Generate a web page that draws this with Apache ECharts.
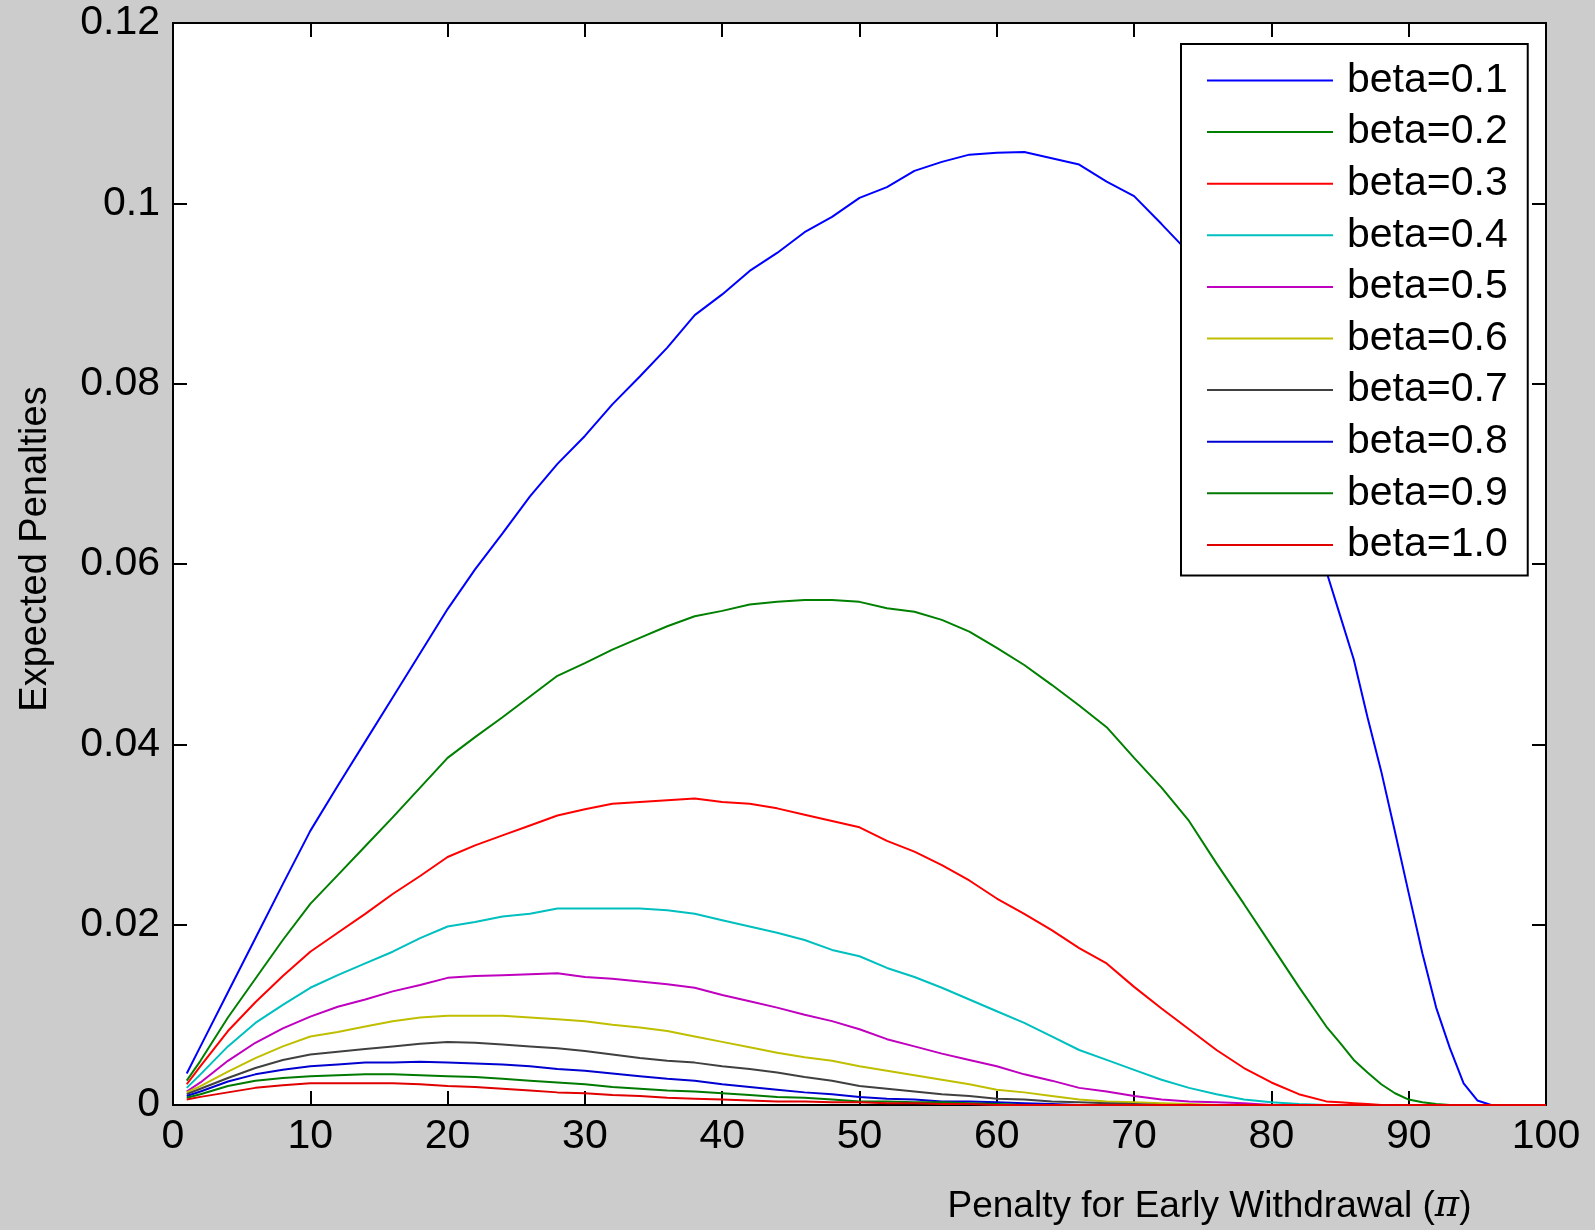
<!DOCTYPE html>
<html>
<head>
<meta charset="utf-8">
<script src="https://cdn.jsdelivr.net/npm/echarts@6/dist/echarts.min.js"></script>
<style>
  html, body { margin: 0; padding: 0; background: #cccccc; }
  #chart { width: 1595px; height: 1230px; }
</style>
</head>
<body>
<div id="chart"></div>
<script>
// Penalty for early withdrawal (pi) sample points
const penalty = [1, 2, 4, 6, 8, 10, 12, 14, 16, 18, 20, 22, 24, 26, 28, 30, 32, 34, 36, 38, 40,
  42, 44, 46, 48, 50, 52, 54, 56, 58, 60, 62, 64, 66, 68, 70, 72, 74, 76, 78, 80, 82, 84,
  85, 86, 87, 88, 89, 90, 91, 92, 93, 94, 95, 96, 97, 98, 99, 100];

// Expected penalties for each beta
const beta01 = [0.0035, 0.0065, 0.0125, 0.0185, 0.0245, 0.0304, 0.0354, 0.0403, 0.0452, 0.0501, 0.0550,
  0.0594, 0.0634, 0.0675, 0.0711, 0.0742, 0.0777, 0.0808, 0.0840, 0.0876, 0.0899,
  0.0925, 0.0945, 0.0968, 0.0985, 0.1006, 0.1018, 0.1036, 0.1046, 0.1054, 0.1056,
  0.1057, 0.1050, 0.1043, 0.1024, 0.1008, 0.0977, 0.0945, 0.0903, 0.0843, 0.0773, 0.0690, 0.0592,
  0.0543, 0.0494, 0.0430, 0.0370, 0.0303, 0.0235, 0.0168, 0.0108, 0.0063, 0.0024, 0.0005, 0, 0, 0, 0, 0];
const beta02 = [0.0027, 0.0049, 0.0097, 0.0140, 0.0183, 0.0223, 0.0255, 0.0287, 0.0319, 0.0352, 0.0385,
  0.0408, 0.0430, 0.0453, 0.0476, 0.0490, 0.0505, 0.0518, 0.0531, 0.0542, 0.0548,
  0.0555, 0.0558, 0.0560, 0.0560, 0.0558, 0.0551, 0.0547, 0.0538, 0.0525, 0.0507,
  0.0488, 0.0466, 0.0443, 0.0419, 0.0385, 0.0352, 0.0315, 0.0268, 0.0223, 0.0177, 0.0131, 0.0087,
  0.0069, 0.0050, 0.0036, 0.0023, 0.0013, 0.0006, 0.0003, 0.0001, 0, 0, 0, 0, 0, 0, 0, 0];
const beta03 = [0.0023, 0.0043, 0.0082, 0.0114, 0.0143, 0.0170, 0.0191, 0.0212, 0.0234, 0.0254, 0.0275,
  0.0288, 0.0299, 0.0310, 0.0321, 0.0328, 0.0334, 0.0336, 0.0338, 0.0340, 0.0336,
  0.0334, 0.0329, 0.0322, 0.0315, 0.0308, 0.0293, 0.0281, 0.0266, 0.0249, 0.0229,
  0.0212, 0.0194, 0.0174, 0.0157, 0.0131, 0.0107, 0.0084, 0.0061, 0.0041, 0.0025, 0.0012, 0.0004,
  0.0003, 0.0002, 0.0001, 0, 0, 0, 0, 0, 0, 0, 0, 0, 0, 0, 0, 0];
const beta04 = [0.0019, 0.0034, 0.0065, 0.0091, 0.0111, 0.0130, 0.0144, 0.0157, 0.0170, 0.0185, 0.0198,
  0.0203, 0.0209, 0.0212, 0.0218, 0.0218, 0.0218, 0.0218, 0.0216, 0.0212, 0.0205,
  0.0198, 0.0191, 0.0183, 0.0172, 0.0165, 0.0152, 0.0142, 0.0130, 0.0117, 0.0104,
  0.0091, 0.0076, 0.0061, 0.0050, 0.0039, 0.0028, 0.0019, 0.0012, 0.0006, 0.0003, 0.0001, 0,
  0, 0, 0, 0, 0, 0, 0, 0, 0, 0, 0, 0, 0, 0, 0, 0];
const beta05 = [0.0015, 0.0025, 0.0049, 0.0069, 0.0085, 0.0098, 0.0109, 0.0117, 0.0126, 0.0133, 0.0141,
  0.0143, 0.0144, 0.0145, 0.0146, 0.0142, 0.0140, 0.0137, 0.0134, 0.0130, 0.0122,
  0.0115, 0.0108, 0.0100, 0.0093, 0.0084, 0.0073, 0.0065, 0.0057, 0.0050, 0.0043,
  0.0034, 0.0027, 0.0019, 0.0015, 0.0010, 0.0006, 0.0004, 0.0003, 0.0002, 0, 0, 0,
  0, 0, 0, 0, 0, 0, 0, 0, 0, 0, 0, 0, 0, 0, 0, 0];
const beta06 = [0.0014, 0.0021, 0.0037, 0.0052, 0.0065, 0.0076, 0.0081, 0.0087, 0.0093, 0.0097, 0.0099,
  0.0099, 0.0099, 0.0097, 0.0095, 0.0093, 0.0089, 0.0086, 0.0082, 0.0076, 0.0070,
  0.0064, 0.0058, 0.0053, 0.0049, 0.0043, 0.0038, 0.0033, 0.0028, 0.0023, 0.0017,
  0.0014, 0.0010, 0.0006, 0.0004, 0.0003, 0.0002, 0.0001, 0, 0, 0, 0, 0,
  0, 0, 0, 0, 0, 0, 0, 0, 0, 0, 0, 0, 0, 0, 0, 0];
const beta07 = [0.0012, 0.0018, 0.0030, 0.0041, 0.0050, 0.0056, 0.0059, 0.0062, 0.0065, 0.0068, 0.0070,
  0.0069, 0.0067, 0.0065, 0.0063, 0.0060, 0.0056, 0.0052, 0.0049, 0.0047, 0.0043,
  0.0040, 0.0036, 0.0031, 0.0027, 0.0021, 0.0018, 0.0015, 0.0012, 0.0010, 0.0007,
  0.0006, 0.0004, 0.0003, 0.0002, 0.0001, 0, 0, 0, 0, 0, 0, 0,
  0, 0, 0, 0, 0, 0, 0, 0, 0, 0, 0, 0, 0, 0, 0, 0];
const beta08 = [0.0010, 0.0015, 0.0026, 0.0034, 0.0039, 0.0043, 0.0045, 0.0047, 0.0047, 0.0048, 0.0047,
  0.0046, 0.0045, 0.0043, 0.0040, 0.0038, 0.0035, 0.0032, 0.0029, 0.0027, 0.0023,
  0.0020, 0.0017, 0.0014, 0.0012, 0.0009, 0.0007, 0.0006, 0.0004, 0.0004, 0.0003,
  0.0002, 0.0001, 0, 0, 0, 0, 0, 0, 0, 0, 0, 0,
  0, 0, 0, 0, 0, 0, 0, 0, 0, 0, 0, 0, 0, 0, 0, 0];
const beta09 = [0.0008, 0.0012, 0.0021, 0.0027, 0.0030, 0.0032, 0.0033, 0.0034, 0.0034, 0.0033, 0.0032,
  0.0031, 0.0029, 0.0027, 0.0025, 0.0023, 0.0020, 0.0018, 0.0016, 0.0015, 0.0013,
  0.0011, 0.0009, 0.0008, 0.0006, 0.0004, 0.0004, 0.0003, 0.0003, 0.0002, 0.0001,
  0, 0, 0, 0, 0, 0, 0, 0, 0, 0, 0, 0,
  0, 0, 0, 0, 0, 0, 0, 0, 0, 0, 0, 0, 0, 0, 0, 0];
const beta10 = [0.0006, 0.0009, 0.0014, 0.0019, 0.0022, 0.0024, 0.0024, 0.0024, 0.0024, 0.0023, 0.0021,
  0.0020, 0.0018, 0.0016, 0.0014, 0.0013, 0.0011, 0.0010, 0.0008, 0.0007, 0.0006,
  0.0005, 0.0004, 0.0004, 0.0003, 0.0003, 0.0002, 0.0002, 0.0001, 0.0001, 0,
  0, 0, 0, 0, 0, 0, 0, 0, 0, 0, 0, 0,
  0, 0, 0, 0, 0, 0, 0, 0, 0, 0, 0, 0, 0, 0, 0, 0];

const seriesNames = ['beta=0.1', 'beta=0.2', 'beta=0.3', 'beta=0.4', 'beta=0.5',
  'beta=0.6', 'beta=0.7', 'beta=0.8', 'beta=0.9', 'beta=1.0'];
const seriesValues = [beta01, beta02, beta03, beta04, beta05, beta06, beta07, beta08, beta09, beta10];
const lineColors = ['#0000ff', '#008000', '#ff0000', '#00bfbf', '#bf00bf',
  '#bfbf00', '#404040', '#0000d0', '#007a00', '#e00000'];

const FONT = '"Liberation Sans", Arial, Helvetica, sans-serif';
const BLACK = '#000000';

const chart = echarts.init(document.getElementById('chart'), null, { renderer: 'canvas' });

const boxLine = { show: true, onZero: false, lineStyle: { color: BLACK, width: 2 } };
const boxTick = { show: true, inside: true, length: 14, lineStyle: { color: BLACK, width: 2 } };

const option = {
  backgroundColor: '#cccccc',
  animation: false,
  grid: {
    left: 173, top: 23, width: 1373, height: 1086,
    show: true, backgroundColor: '#ffffff', borderColor: BLACK, borderWidth: 2
  },
  legend: {
    orient: 'vertical',
    left: 1181, top: 44,
    padding: [16, 20, 10, 26],
    icon: 'rect',
    itemWidth: 126, itemHeight: 2, itemGap: 10.6,
    backgroundColor: '#ffffff', borderColor: BLACK, borderWidth: 2,
    textStyle: { fontSize: 41, fontFamily: FONT, color: BLACK, lineHeight: 41, padding: [0, 0, 0, 9] },
    data: seriesNames
  },
  xAxis: [
    {
      type: 'value', min: 0, max: 100, interval: 10, position: 'bottom',
      axisLine: boxLine, axisTick: boxTick, splitLine: { show: false },
      axisLabel: { color: BLACK, fontSize: 41, fontFamily: FONT, margin: 11 },
      name: 'Penalty for Early Withdrawal ({pi|π})',
      nameLocation: 'middle', nameGap: 83,
      nameTextStyle: {
        color: BLACK, fontSize: 37, fontFamily: FONT, padding: [0, 0, 0, 700],
        rich: { pi: { fontSize: 37, fontFamily: '"DejaVu Serif", serif', fontStyle: 'italic', color: BLACK } }
      }
    },
    {
      type: 'value', min: 0, max: 100, interval: 10, position: 'top',
      axisLine: boxLine, axisTick: boxTick, splitLine: { show: false },
      axisLabel: { show: false }
    }
  ],
  yAxis: [
    {
      type: 'value', min: 0, max: 0.12, interval: 0.02, position: 'left',
      axisLine: boxLine, axisTick: boxTick, splitLine: { show: false },
      axisLabel: {
        color: BLACK, fontSize: 41, fontFamily: FONT, margin: 13,
        formatter: v => (v === 0 ? '0' : String(+v.toFixed(2)))
      },
      name: 'Expected Penalties',
      nameLocation: 'middle', nameGap: 118,
      nameTextStyle: { color: BLACK, fontSize: 38, fontFamily: FONT, padding: [0, 0, 0, 30] }
    },
    {
      type: 'value', min: 0, max: 0.12, interval: 0.02, position: 'right',
      axisLine: boxLine, axisTick: boxTick, splitLine: { show: false },
      axisLabel: { show: false }
    }
  ],
  series: seriesNames.map((name, k) => ({
    type: 'line',
    name: name,
    xAxisIndex: 0, yAxisIndex: 0,
    symbol: 'none',
    smooth: false,
    clip: true,
    lineStyle: { width: 2, color: lineColors[k] },
    itemStyle: { color: lineColors[k] },
    data: penalty.map((x, i) => [x, seriesValues[k][i]])
  }))
};

chart.setOption(option);
</script>
</body>
</html>
